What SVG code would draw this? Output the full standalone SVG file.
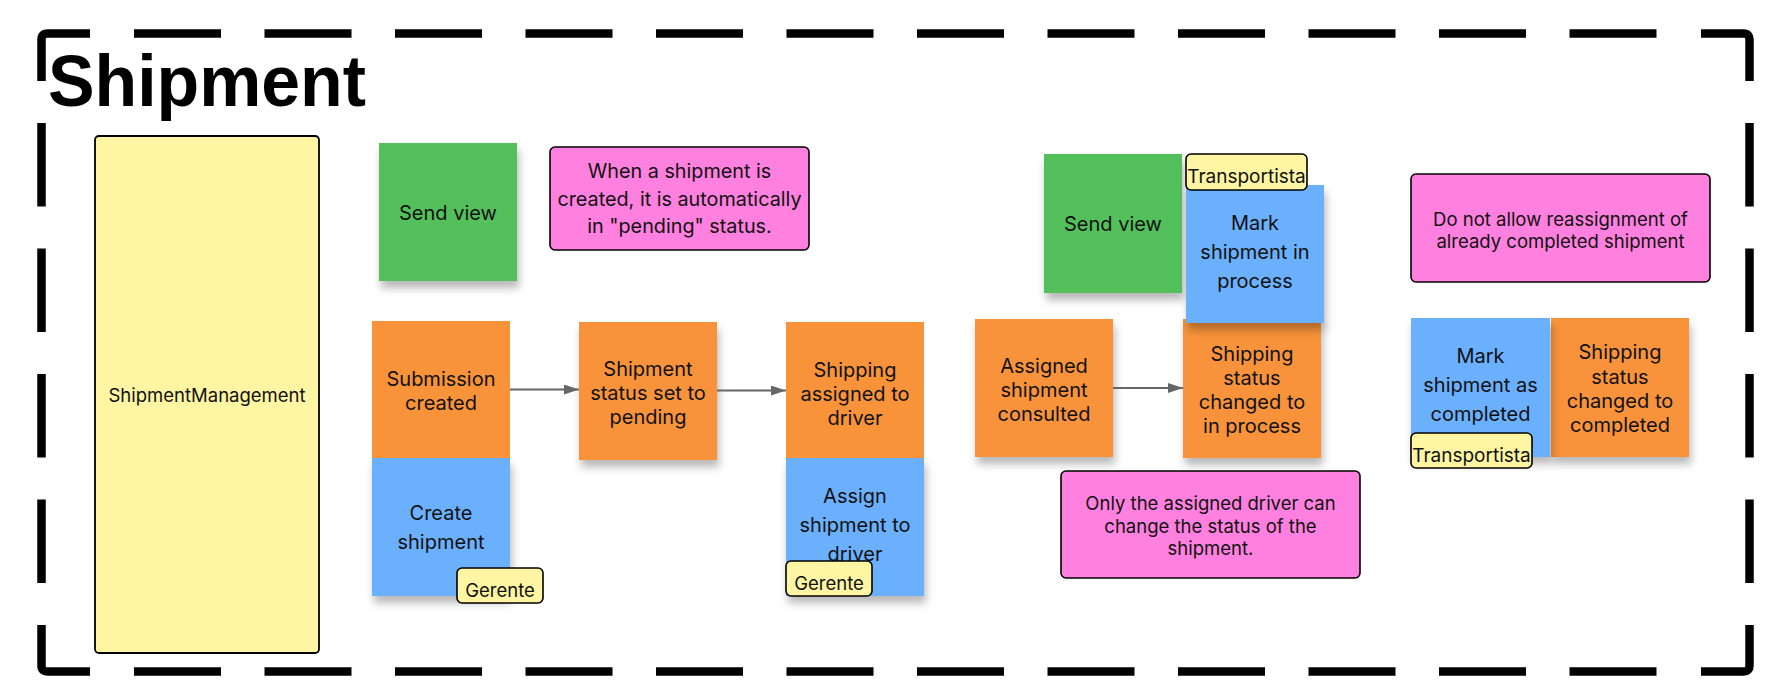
<svg xmlns="http://www.w3.org/2000/svg" width="1784" height="696" viewBox="0 0 1784 696">
<defs>
<filter id="sh" x="-20%" y="-20%" width="140%" height="150%">
<feDropShadow dx="2" dy="7" stdDeviation="4" flood-color="#000" flood-opacity="0.28"/>
</filter>
<marker id="ah" viewBox="0 0 15 10" refX="15" refY="5" markerWidth="15" markerHeight="10" markerUnits="userSpaceOnUse" orient="auto">
<path d="M0,0 L15,5 L0,10 Z" fill="#666"/>
</marker>
</defs>
<style>
.frame{fill:none;stroke:#000;stroke-width:8.5;stroke-linecap:butt}
.t{font-family:Inter,"Liberation Sans",sans-serif;font-size:20px;fill:#111;text-anchor:middle}
.ts{font-family:Inter,"Liberation Sans",sans-serif;font-size:18.5px;fill:#111;text-anchor:middle}
.orange{fill:#F8933A}
.blue{fill:#6BB0FD}
.green{fill:#52C05B}
.note{fill:#FF80DF;stroke:#000;stroke-width:1.6}
.lab{fill:#FFF5A3;stroke:#000;stroke-width:1.6}
.conn{stroke:#666;stroke-width:2;fill:none}
</style>
<rect width="1784" height="696" fill="#fff"/>
<g id="frame">
<path class="frame" d="M41.5,81 V39.5 Q41.5,33.5 47.5,33.5 H90"/>
<path class="frame" d="M1701,33.5 H1743.5 Q1749.5,33.5 1749.5,39.5 V81"/>
<path class="frame" d="M1749.5,625 V665.5 Q1749.5,671.5 1743.5,671.5 H1701"/>
<path class="frame" d="M90,671.5 H47.5 Q41.5,671.5 41.5,665.5 V625"/>
<line class="frame" x1="134" y1="33.5" x2="1656.5" y2="33.5" stroke-dasharray="87 43.5"/>
<line class="frame" x1="134" y1="671.5" x2="1656.5" y2="671.5" stroke-dasharray="87 43.5"/>
<line class="frame" x1="41.5" y1="123" x2="41.5" y2="583" stroke-dasharray="83.5 42"/>
<line class="frame" x1="1749.5" y1="123" x2="1749.5" y2="583" stroke-dasharray="83.5 42"/>
<text x="48" y="106" font-family="'Liberation Sans',Arial,sans-serif" font-weight="700" font-size="72" textLength="318" lengthAdjust="spacingAndGlyphs" fill="#000">Shipment</text>
</g>
<g id="shipmentManagement">
<rect x="95" y="136" width="224" height="517" rx="4" fill="#FFF5A3" stroke="#000" stroke-width="1.8"/>
<text class="ts" x="207" y="402" font-size="19">ShipmentManagement</text>
</g>
<g id="sendView1">
<rect class="green" x="379" y="143" width="138" height="138" filter="url(#sh)"/>
<text class="t" x="448" y="220">Send view</text>
</g>
<g id="note1">
<rect class="note" x="550" y="147" width="259" height="103" rx="5"/>
<text class="ts" x="679.5" y="178" style="font-size:19.8px"><tspan x="679.5">When a shipment is</tspan><tspan x="679.5" dy="27.5">created, it is automatically</tspan><tspan x="679.5" dy="27.5">in "pending" status.</tspan></text>
</g>
<g id="createShipment">
<rect class="blue" x="372" y="458" width="138" height="138" filter="url(#sh)"/>
<text class="t" x="441" y="520"><tspan x="441">Create</tspan><tspan x="441" dy="28.5">shipment</tspan></text>
</g>
<g id="submissionCreated">
<rect class="orange" x="372" y="321" width="138" height="137"/>
<text class="t" x="441" y="386"><tspan x="441">Submission</tspan><tspan x="441" dy="24">created</tspan></text>
</g>
<g id="gerente1">
<rect class="lab" x="457" y="568" width="86" height="35" rx="5"/>
<text class="ts" x="500" y="597">Gerente</text>
</g>
<g id="statusPending">
<rect class="orange" x="579" y="322" width="138" height="138" filter="url(#sh)"/>
<text class="t" x="648" y="376"><tspan x="648">Shipment</tspan><tspan x="648" dy="24">status set to</tspan><tspan x="648" dy="24">pending</tspan></text>
</g>
<g id="assignShipment">
<rect class="blue" x="786" y="458" width="138" height="138" filter="url(#sh)"/>
<text class="t" x="855" y="503"><tspan x="855">Assign</tspan><tspan x="855" dy="29">shipment to</tspan><tspan x="855" dy="29">driver</tspan></text>
</g>
<g id="shippingAssigned">
<rect class="orange" x="786" y="322" width="138" height="136"/>
<text class="t" x="855" y="376.5"><tspan x="855">Shipping</tspan><tspan x="855" dy="24">assigned to</tspan><tspan x="855" dy="24">driver</tspan></text>
</g>
<g id="gerente2">
<rect class="lab" x="786" y="561" width="86" height="35" rx="5"/>
<text class="ts" x="829" y="589.5">Gerente</text>
</g>
<g id="assignedConsulted">
<rect class="orange" x="975" y="319" width="138" height="138" filter="url(#sh)"/>
<text class="t" x="1044" y="372.7"><tspan x="1044">Assigned</tspan><tspan x="1044" dy="24">shipment</tspan><tspan x="1044" dy="24">consulted</tspan></text>
</g>
<g id="sendView2">
<rect class="green" x="1044" y="154" width="138" height="139" filter="url(#sh)"/>
<text class="t" x="1113" y="231">Send view</text>
</g>
<g id="statusInProcess">
<rect class="orange" x="1183" y="319" width="138" height="139" filter="url(#sh)"/>
<text class="t" x="1252" y="360.7"><tspan x="1252">Shipping</tspan><tspan x="1252" dy="24.2">status</tspan><tspan x="1252" dy="24.2">changed to</tspan><tspan x="1252" dy="24.2">in process</tspan></text>
</g>
<g id="markInProcess">
<rect class="blue" x="1186" y="185" width="138" height="138" filter="url(#sh)"/>
<text class="t" x="1255" y="230"><tspan x="1255">Mark</tspan><tspan x="1255" dy="29">shipment in</tspan><tspan x="1255" dy="29">process</tspan></text>
</g>
<g id="transportista1">
<rect class="lab" x="1186" y="154" width="121" height="36" rx="5"/>
<text class="ts" x="1246.5" y="183.3" style="font-size:19px">Transportista</text>
</g>
<g id="note2">
<rect class="note" x="1061" y="471" width="299" height="107" rx="5"/>
<text class="ts" x="1210.5" y="510"><tspan x="1210.5">Only the assigned driver can</tspan><tspan x="1210.5" dy="22.5">change the status of the</tspan><tspan x="1210.5" dy="22.5">shipment.</tspan></text>
</g>
<g id="note3">
<rect class="note" x="1411" y="174" width="299" height="108" rx="5"/>
<text class="ts" x="1560.5" y="225.7"><tspan x="1560.5">Do not allow reassignment of</tspan><tspan x="1560.5" dy="22">already completed shipment</tspan></text>
</g>
<g id="statusCompleted">
<rect class="orange" x="1551" y="318" width="138" height="139" filter="url(#sh)"/>
<text class="t" x="1620" y="359.3"><tspan x="1620">Shipping</tspan><tspan x="1620" dy="24.2">status</tspan><tspan x="1620" dy="24.2">changed to</tspan><tspan x="1620" dy="24.2">completed</tspan></text>
</g>
<g id="markCompleted">
<rect class="blue" x="1411" y="318" width="139" height="139" filter="url(#sh)"/>
<text class="t" x="1480.5" y="363.3"><tspan x="1480.5">Mark</tspan><tspan x="1480.5" dy="29">shipment as</tspan><tspan x="1480.5" dy="29">completed</tspan></text>
</g>
<g id="transportista2">
<rect class="lab" x="1411" y="433" width="121" height="35" rx="5"/>
<text class="ts" x="1471.5" y="461.7" style="font-size:19px">Transportista</text>
</g>
<g id="connectors">
<line class="conn" x1="510" y1="389.5" x2="579" y2="389.5" marker-end="url(#ah)"/>
<line class="conn" x1="717" y1="390.5" x2="786" y2="390.5" marker-end="url(#ah)"/>
<line class="conn" x1="1113" y1="388" x2="1183" y2="388" marker-end="url(#ah)"/>
</g>
</svg>
